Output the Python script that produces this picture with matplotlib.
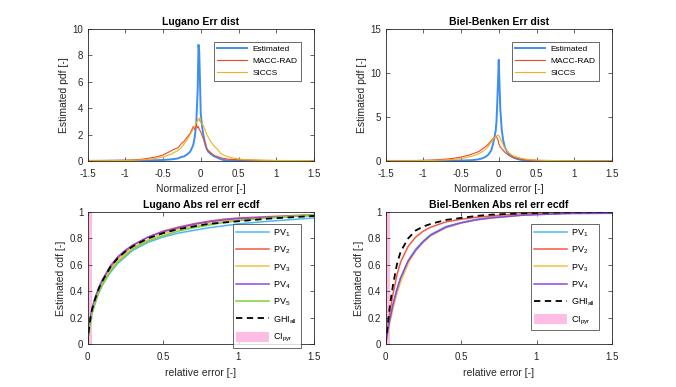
import matplotlib
matplotlib.use("Agg")
import matplotlib.pyplot as plt
from matplotlib.patches import Patch

plt.rcParams['font.family'] = ['Liberation Sans', 'DejaVu Sans']
plt.rcParams['mathtext.default'] = 'regular'
plt.rcParams['font.size'] = 7

# ---------------- data ----------------
pdf_x = [-1.5, -1.3, -1.1, -0.9, -0.8, -0.7, -0.6, -0.5, -0.45, -0.4, -0.35, -0.3, -0.26, -0.22,
         -0.18, -0.14, -0.1, -0.08, -0.06, -0.04, -0.03, -0.02, -0.01, 0, 0.02, 0.04, 0.06, 0.08,
         0.1, 0.14, 0.18, 0.22, 0.26, 0.3, 0.35, 0.4, 0.5, 0.6, 0.7, 0.8, 0.9, 1.1, 1.3, 1.5]

lug_est = [0.01, 0.01, 0.02, 0.02, 0.03, 0.04, 0.06, 0.08, 0.1, 0.12, 0.15, 0.2, 0.3, 0.35,
           0.5, 0.7, 1.2, 1.8, 2.8, 5.5, 8.8, 8.3, 6.0, 3.6, 2.5, 1.8, 1.3, 0.9,
           0.7, 0.5, 0.35, 0.25, 0.15, 0.08, 0.05, 0.03, 0.02, 0.01, 0.01, 0.0, 0.0, 0.0, 0.0, 0.0]
lug_macc = [0.03, 0.04, 0.05, 0.08, 0.12, 0.2, 0.3, 0.45, 0.6, 0.75, 0.9, 1.0, 1.3, 1.5,
            1.8, 2.1, 2.6, 2.4, 2.8, 2.5, 2.6, 2.4, 2.3, 2.2, 1.9, 1.6, 1.2, 0.9,
            0.8, 0.6, 0.4, 0.35, 0.25, 0.2, 0.15, 0.12, 0.1, 0.08, 0.06, 0.05, 0.04, 0.03, 0.02, 0.02]
lug_siccs = [0.02, 0.02, 0.03, 0.05, 0.08, 0.12, 0.2, 0.3, 0.4, 0.5, 0.65, 0.8, 1.0, 1.3,
             1.6, 2.0, 2.4, 2.6, 2.9, 3.1, 3.2, 3.0, 3.3, 2.9, 2.8, 2.6, 2.3, 2.0,
             1.8, 1.4, 1.1, 0.9, 0.6, 0.45, 0.35, 0.25, 0.15, 0.1, 0.08, 0.06, 0.05, 0.04, 0.03, 0.02]

biel_est = [0.01, 0.01, 0.01, 0.02, 0.02, 0.03, 0.04, 0.05, 0.06, 0.08, 0.1, 0.15, 0.2, 0.3,
            0.45, 0.7, 1.2, 1.8, 2.5, 3.5, 4.5, 6.5, 9.0, 11.5, 6.0, 3.5, 2.3, 1.6,
            1.2, 0.7, 0.45, 0.3, 0.2, 0.12, 0.08, 0.05, 0.02, 0.01, 0.01, 0.0, 0.0, 0.0, 0.0, 0.0]
biel_macc = [0.02, 0.03, 0.05, 0.1, 0.15, 0.22, 0.3, 0.45, 0.55, 0.65, 0.8, 0.95, 1.1, 1.35,
             1.6, 1.9, 2.3, 2.5, 2.7, 2.8, 2.75, 2.6, 2.4, 2.0, 1.6, 1.4, 1.2, 1.0,
             0.85, 0.6, 0.45, 0.35, 0.28, 0.2, 0.15, 0.1, 0.06, 0.04, 0.03, 0.02, 0.02, 0.01, 0.01, 0.01]
biel_siccs = [0.01, 0.02, 0.03, 0.06, 0.08, 0.12, 0.18, 0.28, 0.35, 0.45, 0.55, 0.7, 0.85, 1.05,
              1.3, 1.65, 2.1, 2.35, 2.6, 2.8, 2.85, 2.9, 2.95, 2.9, 2.6, 2.2, 1.8, 1.5,
              1.25, 0.9, 0.65, 0.5, 0.38, 0.3, 0.22, 0.16, 0.1, 0.07, 0.05, 0.04, 0.03, 0.02, 0.01, 0.01]

cdf_x = [0, 0.01, 0.02, 0.03, 0.05, 0.075, 0.1, 0.15, 0.2, 0.25, 0.3, 0.4, 0.5, 0.6, 0.7,
         0.8, 0.9, 1.0, 1.2, 1.5]

lug_pv1 = [0, 0.1, 0.17, 0.23, 0.31, 0.39, 0.45, 0.54, 0.61, 0.66, 0.71, 0.77, 0.81, 0.84, 0.86,
           0.88, 0.895, 0.91, 0.93, 0.955]
lug_pv2 = [0, 0.12, 0.2, 0.26, 0.34, 0.42, 0.48, 0.58, 0.65, 0.7, 0.745, 0.81, 0.855, 0.885, 0.91,
           0.93, 0.945, 0.955, 0.965, 0.98]
lug_pv3 = [0, 0.1, 0.18, 0.24, 0.32, 0.4, 0.46, 0.56, 0.63, 0.68, 0.73, 0.79, 0.835, 0.87, 0.89,
           0.91, 0.93, 0.94, 0.955, 0.975]
lug_pv4 = [0, 0.12, 0.21, 0.27, 0.35, 0.43, 0.49, 0.59, 0.66, 0.71, 0.75, 0.81, 0.85, 0.88, 0.905,
           0.925, 0.94, 0.95, 0.96, 0.975]
lug_pv5 = [0, 0.1, 0.17, 0.23, 0.31, 0.39, 0.45, 0.55, 0.62, 0.67, 0.72, 0.78, 0.82, 0.855, 0.88,
           0.9, 0.92, 0.935, 0.955, 0.98]
lug_ghi = [0, 0.12, 0.2, 0.26, 0.34, 0.42, 0.48, 0.58, 0.65, 0.7, 0.74, 0.8, 0.84, 0.87, 0.89,
           0.91, 0.92, 0.93, 0.95, 0.97]

biel_pv1 = [0, 0.06, 0.13, 0.19, 0.3, 0.41, 0.5, 0.63, 0.72, 0.78, 0.83, 0.89, 0.92, 0.945, 0.96,
            0.97, 0.977, 0.983, 0.99, 0.995]
biel_pv2 = [0, 0.08, 0.17, 0.25, 0.38, 0.52, 0.62, 0.74, 0.81, 0.855, 0.885, 0.925, 0.945, 0.96, 0.97,
            0.98, 0.985, 0.99, 0.995, 0.998]
biel_pv3 = [0, 0.05, 0.11, 0.17, 0.27, 0.38, 0.47, 0.61, 0.71, 0.77, 0.82, 0.88, 0.915, 0.94, 0.955,
            0.965, 0.975, 0.98, 0.99, 0.995]
biel_pv4 = [0, 0.06, 0.13, 0.19, 0.3, 0.41, 0.5, 0.63, 0.71, 0.775, 0.825, 0.885, 0.918, 0.94, 0.955,
            0.965, 0.975, 0.98, 0.988, 0.99]
biel_ghi = [0, 0.1, 0.2, 0.3, 0.45, 0.6, 0.7, 0.8, 0.86, 0.89, 0.91, 0.94, 0.955, 0.97, 0.98,
            0.985, 0.99, 0.993, 0.997, 1.0]

ci_pyr = 0.03

pdf_labels = ['Estimated', 'MACC-RAD', 'SICCS']
pv_labels = ['PV$_1$', 'PV$_2$', 'PV$_3$', 'PV$_4$', 'PV$_5$']
ghi_label = 'GHI$_{all}$'
ci_label = 'CI$_{pyr}$'

# ---------------- style ----------------
c_est = '#3d8ef0'
c_macc = '#ee4a24'
c_siccs = '#efb21c'
pv_colors = ['#4db8f2', '#f25a45', '#f5c040', '#8a4ae6', '#7fd13b']
ci_color = '#ffbde3'
axc = '#262626'

fig = plt.figure(figsize=(6.76, 3.87), dpi=100)
W, H = 676, 387


def make_ax(x0, x1, y0, y1):
    return fig.add_axes([x0 / W, 1 - y1 / H, (x1 - x0) / W, (y1 - y0) / H])


def style(ax):
    ax.tick_params(direction='in', top=True, right=True, length=3, width=0.5,
                   colors=axc, labelsize=7)
    ax.tick_params(axis='x', pad=6)
    ax.tick_params(axis='y', pad=3)
    for s in ax.spines.values():
        s.set_linewidth(0.6)
        s.set_color(axc)


axes_pdf = [make_ax(87.5, 314, 29, 161), make_ax(385.5, 612, 29, 161)]
axes_cdf = [make_ax(87.5, 314, 212, 344), make_ax(385.5, 612, 212, 344)]

pdf_sets = [(lug_est, lug_macc, lug_siccs, 'Lugano Err dist', 10, [0, 2, 4, 6, 8, 10]),
            (biel_est, biel_macc, biel_siccs, 'Biel-Benken Err dist', 15, [0, 5, 10, 15])]

for ax, (est, macc, sic, title, ymax, yt) in zip(axes_pdf, pdf_sets):
    ax.plot(pdf_x, est, color=c_est, lw=1.4, label=pdf_labels[0])
    ax.plot(pdf_x, macc, color=c_macc, lw=0.8, label=pdf_labels[1])
    ax.plot(pdf_x, sic, color=c_siccs, lw=0.8, label=pdf_labels[2])
    ax.set_xlim(-1.5, 1.5)
    ax.set_ylim(0, ymax)
    ax.set_xticks([-1.5, -1, -0.5, 0, 0.5, 1, 1.5])
    ax.set_xticklabels(['-1.5', '-1', '-0.5', '0', '0.5', '1', '1.5'])
    ax.set_yticks(yt)
    ax.set_title(title, fontsize=7.5, fontweight='bold', pad=3)
    ax.set_xlabel('Normalized error [-]', fontsize=7.5, color=axc, labelpad=3)
    ax.set_ylabel('Estimated pdf [-]', fontsize=7.5, color=axc, labelpad=2.5)
    style(ax)
    leg = ax.legend(loc='upper right', bbox_to_anchor=(0.943, 0.905), fontsize=6,
                    frameon=True, fancybox=False, edgecolor=axc, handlelength=3.6,
                    labelspacing=0.5, borderpad=0.45, handletextpad=0.6, borderaxespad=0)
    leg.get_frame().set_linewidth(0.6)

cdf_sets = [([lug_pv1, lug_pv2, lug_pv3, lug_pv4, lug_pv5], lug_ghi, 'Lugano Abs rel err ecdf'),
            ([biel_pv1, biel_pv2, biel_pv3, biel_pv4], biel_ghi, 'Biel-Benken Abs rel err ecdf')]

for ax, (pvs, ghi, title) in zip(axes_cdf, cdf_sets):
    ax.axvspan(0, ci_pyr, color=ci_color, lw=0, zorder=0)
    handles = []
    for i, pv in enumerate(pvs):
        h, = ax.plot(cdf_x, pv, color=pv_colors[i], lw=1.1, label=pv_labels[i])
        handles.append(h)
    h, = ax.plot(cdf_x, ghi, color='black', lw=1.3, ls=(0, (3.5, 2.5)), label=ghi_label)
    handles.append(h)
    handles.append(Patch(facecolor=ci_color, edgecolor='none', label=ci_label))
    ax.set_xlim(0, 1.5)
    ax.set_ylim(0, 1)
    ax.set_xticks([0, 0.5, 1, 1.5])
    ax.set_xticklabels(['0', '0.5', '1', '1.5'])
    ax.set_yticks([0, 0.2, 0.4, 0.6, 0.8, 1])
    ax.set_yticklabels(['0', '0.2', '0.4', '0.6', '0.8', '1'])
    ax.set_title(title, fontsize=7.5, fontweight='bold', pad=3)
    ax.set_xlabel('relative error [-]', fontsize=7.5, color=axc, labelpad=4)
    ax.set_ylabel('Estimated cdf [-]', fontsize=7.5, color=axc, labelpad=2.5)
    style(ax)
    leg = ax.legend(handles=handles, loc='upper right', bbox_to_anchor=(0.942, 0.91), fontsize=6.5,
                    frameon=True, fancybox=False, edgecolor=axc, handlelength=3.6,
                    handleheight=1.3, labelspacing=0.65, borderpad=0.4, handletextpad=0.5,
                    borderaxespad=0)
    leg.get_frame().set_linewidth(0.6)

fig.savefig('out.png', dpi=100, facecolor='white')
